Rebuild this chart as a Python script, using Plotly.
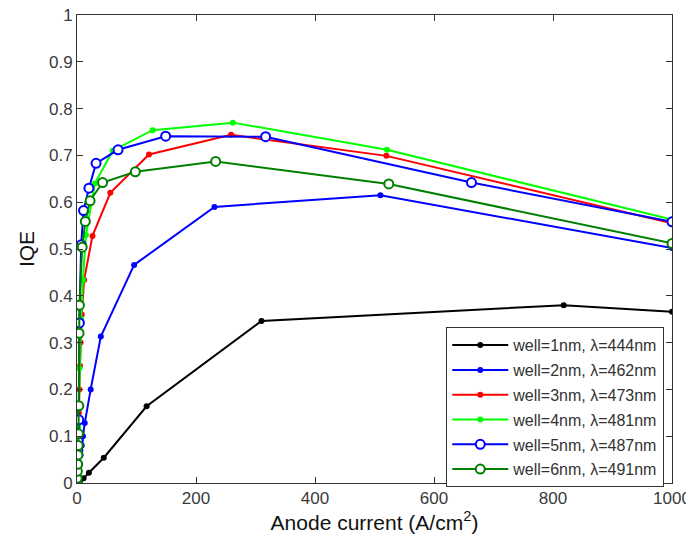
import plotly.graph_objects as go

names = ["well=1nm, λ=444nm", "well=2nm, λ=462nm", "well=3nm, λ=473nm",
         "well=4nm, λ=481nm", "well=5nm, λ=487nm", "well=6nm, λ=491nm"]

x1 = [0, 2, 5, 11, 20, 45, 117, 310, 818, 1000]
y1 = [0, 0.002, 0.005, 0.01, 0.022, 0.054, 0.164, 0.346, 0.38, 0.366]

x2 = [0, 2, 4, 6, 8, 10, 13, 23, 40, 96, 231, 510, 1000]
y2 = [0, 0.02, 0.04, 0.06, 0.08, 0.1, 0.128, 0.2, 0.313, 0.466, 0.59, 0.615, 0.502]

x3 = [0, 0.5, 1, 2, 3, 4, 5, 6, 8, 12, 26, 56, 121, 259, 520, 1000]
y3 = [0, 0.02, 0.05, 0.1, 0.15, 0.2, 0.25, 0.3, 0.36, 0.434, 0.528, 0.62, 0.702, 0.744, 0.699, 0.555]

x4 = [0, 1, 2, 4, 7, 10, 15, 30, 60, 127, 262, 521, 1000]
y4 = [0, 0.05, 0.12, 0.245, 0.35, 0.434, 0.53, 0.64, 0.71, 0.754, 0.77, 0.712, 0.563]

x5 = [0, 1, 1.5, 2, 3, 4, 7, 11, 20, 32, 69, 149, 317, 663, 1000]
y5 = [0, 0.04, 0.07, 0.09, 0.135, 0.342, 0.509, 0.582, 0.63, 0.683, 0.712, 0.741, 0.74, 0.642, 0.558]

x6 = [0, 0.3, 0.6, 1, 1.5, 2, 2.5, 3, 3.5, 4, 8.7, 14, 22, 43, 98, 233, 524, 1000]
y6 = [0, 0.01, 0.025, 0.04, 0.06, 0.08, 0.105, 0.165, 0.32, 0.38, 0.504, 0.559, 0.603, 0.642, 0.665, 0.687, 0.639, 0.512]

xs = [x1, x2, x3, x4, x5, x6]
ys = [y1, y2, y3, y4, y5, y6]
colors = ["#000000", "#0000FF", "#FF0000", "#00FF00", "#0000FF", "#008000"]
open_marker = [False, False, False, False, True, True]

fig = go.Figure()
for i in range(6):
    if open_marker[i]:
        marker = dict(symbol="circle", size=9, color="white",
                      line=dict(color=colors[i], width=2))
    else:
        marker = dict(symbol="circle", size=6, color=colors[i],
                      line=dict(width=0))
    fig.add_trace(go.Scatter(
        x=xs[i], y=ys[i], mode="lines+markers", name=names[i],
        legendgroup=f"g{i}",
        line=dict(color=colors[i], width=2),
        marker=marker,
    ))

font_family = "Liberation Sans, Arial, sans-serif"
fig.update_layout(
    width=694, height=545,
    margin=dict(l=69, r=30, t=7, b=70),
    paper_bgcolor="white", plot_bgcolor="white",
    font=dict(family=font_family, size=17, color="#3a3a3a"),
    showlegend=True,
    legend=dict(
        x=0.987, y=-0.009, xanchor="right", yanchor="bottom",
        bordercolor="#333333", borderwidth=1, bgcolor="white",
        font=dict(size=16, color="#333333"),
        traceorder="grouped", tracegroupgap=1,
        itemwidth=56,
    ),
    xaxis=dict(
        range=[0, 1000], tickvals=[0, 200, 400, 600, 800, 1000],
        ticks="inside", ticklen=6, tickcolor="#333333",
        showline=True, linecolor="#333333", linewidth=1, mirror="ticks",
        showgrid=False, zeroline=False, automargin=False,
        ticklabeloverflow="allow",
        title=dict(text="Anode current (A/cm<sup>2</sup>)",
                   font=dict(size=21, color="#111111"), standoff=6),
    ),
    yaxis=dict(
        range=[0, 1], tickvals=[0, 0.1, 0.2, 0.3, 0.4, 0.5, 0.6, 0.7, 0.8, 0.9, 1],
        ticktext=["0", "0.1", "0.2", "0.3", "0.4", "0.5", "0.6", "0.7", "0.8", "0.9", "1"],
        ticks="inside", ticklen=6, tickcolor="#333333",
        showline=True, linecolor="#333333", linewidth=1, mirror="ticks",
        showgrid=False, zeroline=False, automargin=False,
        ticklabeloverflow="allow",
        title=dict(text="IQE", font=dict(size=21, color="#111111"), standoff=8),
    ),
)

fig.write_html("out.html")
